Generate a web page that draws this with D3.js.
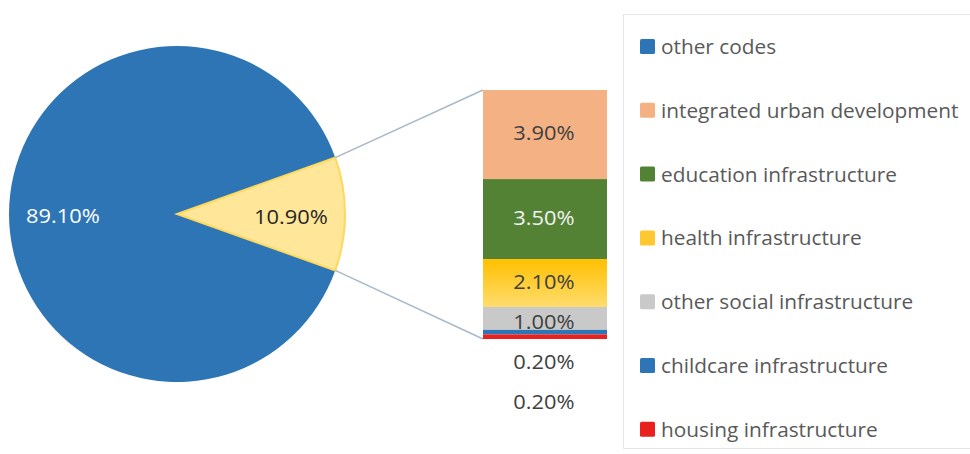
<!DOCTYPE html>
<html><head><meta charset="utf-8">
<script src="https://cdn.jsdelivr.net/npm/d3@7"></script>
<style>body{margin:0;background:#fff;} svg{display:block;}</style>
</head><body>
<svg id="c" width="970" height="454"></svg>
<script>
const pieLabels = ["other codes", "selected codes"];
const pieValues = [89.1, 10.9];
const barCategories = ["integrated urban development","education infrastructure","health infrastructure","other social infrastructure","childcare infrastructure","housing infrastructure"];
const barValues = [3.9, 3.5, 2.1, 1.0, 0.2, 0.2];
const legendLabels = ["other codes"].concat(barCategories);

const colors = {
  "other codes":"#2E75B6",
  "integrated urban development":"#F4B183",
  "education infrastructure":"#548235",
  "health infrastructure":"url(#hg)",
  "other social infrastructure":"#C9C9C9",
  "childcare infrastructure":"#2E75B6",
  "housing infrastructure":"#E8211E"
};
const legendColors = Object.assign({}, colors, {"health infrastructure":"#FFC832"});
const font = "'Open Sans', Lato, sans-serif";

const svg = d3.select("#c");
const defs = svg.append("defs");
const g1 = defs.append("linearGradient").attr("id","hg").attr("x1",0).attr("y1",0).attr("x2",0).attr("y2",1);
g1.append("stop").attr("offset","0%").attr("stop-color","#FFC000");
g1.append("stop").attr("offset","100%").attr("stop-color","#FFDC6E");

function stretch(sel, k) {
  sel.each(function(){ const w = this.getComputedTextLength(); d3.select(this).attr("textLength", w*k).attr("lengthAdjust","spacingAndGlyphs"); });
}

// Pie
const cx = 177, cy = 214, r = 168;
const frac = pieValues[1]/d3.sum(pieValues);
const pie = d3.pie().sort(null).startAngle(Math.PI/2 + frac*Math.PI).endAngle(Math.PI/2 + frac*Math.PI + 2*Math.PI);
const arcs = pie(pieValues);
const arc = d3.arc().innerRadius(0).outerRadius(r);
const pg = svg.append("g").attr("transform",`translate(${cx},${cy})`);
pg.selectAll("path").data(arcs).join("path")
  .attr("d",arc)
  .attr("fill",(d,i)=> i===0 ? colors["other codes"] : "#FFE699")
  .attr("stroke",(d,i)=> i===0 ? "#2E75B6" : "#FFD85C")
  .attr("stroke-width",(d,i)=> i===0?0:2);

// Bar
const barX0 = 483, barX1 = 607;
const y = d3.scaleLinear().domain([0, d3.sum(barValues)]).range([90, 339]);
let cum = 0;
const segs = barValues.map((v,i)=>{const s={cat:barCategories[i], v, y0:cum, y1:cum+v}; cum+=v; return s;});

// connector lines
const yArc = arcs[1];
const pTop = [cx + r*Math.sin(yArc.startAngle), cy - r*Math.cos(yArc.startAngle)];
const pBot = [cx + r*Math.sin(yArc.endAngle), cy - r*Math.cos(yArc.endAngle)];
svg.append("line").attr("x1",pTop[0]).attr("y1",pTop[1]).attr("x2",barX0).attr("y2",y(0))
  .attr("stroke","#A9B8C8").attr("stroke-width",1.5);
svg.append("line").attr("x1",pBot[0]).attr("y1",pBot[1]).attr("x2",barX0).attr("y2",y(d3.sum(barValues)))
  .attr("stroke","#A9B8C8").attr("stroke-width",1.5);

svg.append("g").selectAll("rect").data(segs).join("rect")
  .attr("x",barX0).attr("width",barX1-barX0)
  .attr("y",d=>y(d.y0)).attr("height",d=>y(d.y1)-y(d.y0))
  .attr("fill",d=>colors[d.cat]);

const labelSize = 19.5, labelK = 1.12;
// pie labels
const pl = svg.append("g").attr("class","lbl");
pl.append("text").attr("x",63).attr("y",cy+2)
  .attr("dy","0.35em").attr("text-anchor","middle").attr("font-family",font).attr("font-size",labelSize)
  .attr("fill","#fff").text(pieValues[0].toFixed(2)+"%");
pl.append("text").attr("x",291).attr("y",cy+3)
  .attr("dy","0.35em").attr("text-anchor","middle").attr("font-family",font).attr("font-size",labelSize)
  .attr("fill","#262626").text(pieValues[1].toFixed(2)+"%");

// bar labels
const bx = 544;
let extra = 0;
segs.forEach((s,i)=>{
  let ty, fill = "#404040";
  if (s.v >= 1) { ty = (y(s.y0)+y(s.y1))/2 + (s.v < 1.5 ? 4 : -1); }
  else { ty = y(d3.sum(barValues)) + 23 + extra*40; extra++; }
  if (s.cat === "education infrastructure") fill = "#F2F2F2";
  pl.append("text").attr("x",bx).attr("y",ty).attr("dy","0.35em").attr("text-anchor","middle")
    .attr("font-family",font).attr("font-size",labelSize).attr("fill",fill).text(s.v.toFixed(2)+"%");
});
stretch(pl.selectAll("text"), labelK);

// legend
svg.append("rect").attr("x",623.5).attr("y",14.5).attr("width",360).attr("height",434)
  .attr("fill","none").attr("stroke","#E6E6E6").attr("stroke-width",1);
const lg = svg.append("g");
legendLabels.forEach((l,i)=>{
  const ly = 47 + i*63.8;
  lg.append("rect").attr("x",640).attr("y",ly-8).attr("width",15).attr("height",15).attr("rx",1.5)
    .attr("fill",legendColors[l]);
  lg.append("text").attr("x",661).attr("y",ly).attr("dy","0.35em")
    .attr("font-family",font).attr("font-size",20).attr("fill","#595959").text(l);
});
stretch(lg.selectAll("text"), 1.04);
</script>
</body></html>
